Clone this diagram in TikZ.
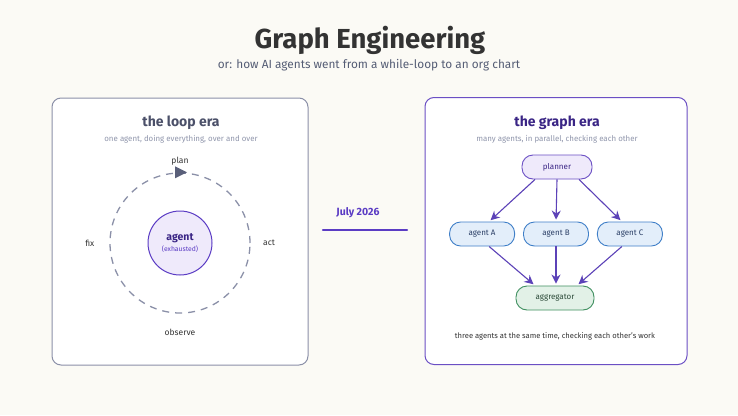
\documentclass[tikz,border=0pt]{standalone}
\usepackage{fontspec}
\setmainfont{Fira Sans}
\usepackage{tikz}
\usetikzlibrary{arrows.meta, positioning, shapes.geometric}
\definecolor{PaperBg}{HTML}{FBFAF5}
\definecolor{InkDark}{HTML}{333333}
\definecolor{InkSub}{HTML}{555D75}
\definecolor{LoopGray}{HTML}{8B90A8}
\definecolor{LoopInk}{HTML}{4B5069}
\definecolor{LoopSub}{HTML}{9096AC}
\definecolor{TipGray}{HTML}{5A607A}
\definecolor{EraPurple}{HTML}{6B4FC4}
\definecolor{EraInk}{HTML}{3A2585}
\definecolor{AgentFill}{HTML}{EFEAFB}
\definecolor{AgentLine}{HTML}{5B3CC4}
\definecolor{WorkFill}{HTML}{E3EEFA}
\definecolor{WorkLine}{HTML}{3F7FC8}
\definecolor{WorkInk}{HTML}{2B3F66}
\definecolor{AggFill}{HTML}{E2F1E7}
\definecolor{AggLine}{HTML}{3F8F5F}
\definecolor{AggInk}{HTML}{2B4A38}
\definecolor{FlowPurple}{HTML}{5C42B8}

\begin{document}
\begin{tikzpicture}[
    x=1pt, y=-1pt,
    node distance=8pt,
    panel/.style={rectangle, rounded corners=9pt, fill=white, line width=1pt,
                  minimum height=267pt, inner sep=0pt},
    eratitle/.style={font=\fontsize{14}{16}\selectfont\bfseries},
    erasub/.style={font=\fontsize{7.9}{9}\selectfont},
    steplabel/.style={font=\fontsize{8.5}{10}\selectfont, text=InkDark},
    pill/.style={rectangle, rounded corners=11pt, line width=0.9pt, minimum height=24pt,
                 inner sep=2pt, font=\fontsize{8}{9}\selectfont\mdseries},
    worker/.style={pill, fill=WorkFill, draw=WorkLine, text=WorkInk, minimum width=65pt},
    flow/.style={-{Stealth[length=9pt, width=9pt]}, line width=1.1pt, FlowPurple,
                 shorten >=2pt}
]
\useasboundingbox[fill=PaperBg] (0,0) rectangle (738,415);

% heading
\node[font=\fontsize{27.5}{30}\selectfont\bfseries, text=InkDark] (title) at (370,40) {Graph Engineering};
\node[font=\fontsize{11.8}{13}\selectfont, text=InkSub] (subtitle) at (369,65)
    {or: how AI agents went from a while-loop to an org chart};

% left panel: the loop
\node[panel, draw=LoopGray, minimum width=256pt] (loopbox) at (180,231.5) {};
\node[eratitle, text=LoopInk] (looptitle) at (181,123) {the loop era};
\node[erasub, text=LoopSub] (loopsub) at (181,139) {one agent, doing everything, over and over};
\node[circle, draw=LoopGray, dash pattern=on 7pt off 6pt, line width=1.3pt,
      minimum size=140pt] (cycle) at (180,243) {};
\fill[TipGray] ([xshift=-5pt, yshift=6pt]cycle.north) -- ([xshift=7pt]cycle.north)
    -- ([xshift=-5pt, yshift=-6pt]cycle.north) -- cycle;
\node[steplabel, above=4pt of cycle.north] (plan) {plan};
\node[steplabel, right=9pt of cycle.east] (act) {act};
\node[steplabel, below=12pt of cycle.south] (observe) {observe};
\node[steplabel, left=11.5pt of cycle.west] (fix) {fix};
\node[circle, draw=AgentLine, fill=AgentFill, line width=1pt, minimum size=64pt,
      align=center, text=EraInk] (agent) at (180,243)
    {{\fontsize{10.5}{12}\selectfont\bfseries agent}\\[-1pt]
     {\fontsize{6.8}{8}\selectfont\color{AgentLine}(exhausted)}};

% the jump
\node[font=\fontsize{10.5}{12}\selectfont\bfseries, text=AgentLine] (date) at (358,213) {July 2026};
\coordinate (jumpL) at (323,230);
\coordinate (jumpR) at (407,230);
\draw[AgentLine, line width=2.2pt, line cap=round] (jumpL) -- (jumpR);

% right panel: the graph
\node[panel, draw=EraPurple, minimum width=262pt] (graphbox) at (556,231) {};
\node[eratitle, text=EraInk] (graphtitle) at (557,123) {the graph era};
\node[erasub, text=LoopSub] (graphsub) at (557,139) {many agents, in parallel, checking each other};
\node[pill, fill=AgentFill, draw=EraPurple, text=EraInk, minimum width=70pt] (planner) at (557,167) {planner};
\node[worker] (agentB) at (556,234) {agent B};
\node[worker, left=of agentB]  (agentA) {agent A};
\node[worker, right=of agentB] (agentC) {agent C};
\node[pill, fill=AggFill, draw=AggLine, text=AggInk, minimum width=78pt] (agg) at (555,298) {aggregator};
\node[font=\fontsize{7.6}{9}\selectfont, text=InkDark] (note) at (555,336)
    {three agents at the same time, checking each other's work};

\draw[flow] ([xshift=-22pt]planner.south) -- ([xshift=7pt]agentA.north);
\draw[flow] (planner.south) -- (agentB.north);
\draw[flow] ([xshift=22pt]planner.south) -- ([xshift=-8pt]agentC.north);
\draw[flow] ([xshift=7pt]agentA.south) -- ([xshift=-20pt]agg.north);
\draw[flow] (agentB.south) -- (agg.north -| agentB.south);
\draw[flow] ([xshift=-8pt]agentC.south) -- ([xshift=22pt]agg.north);
\end{tikzpicture}
\end{document}
